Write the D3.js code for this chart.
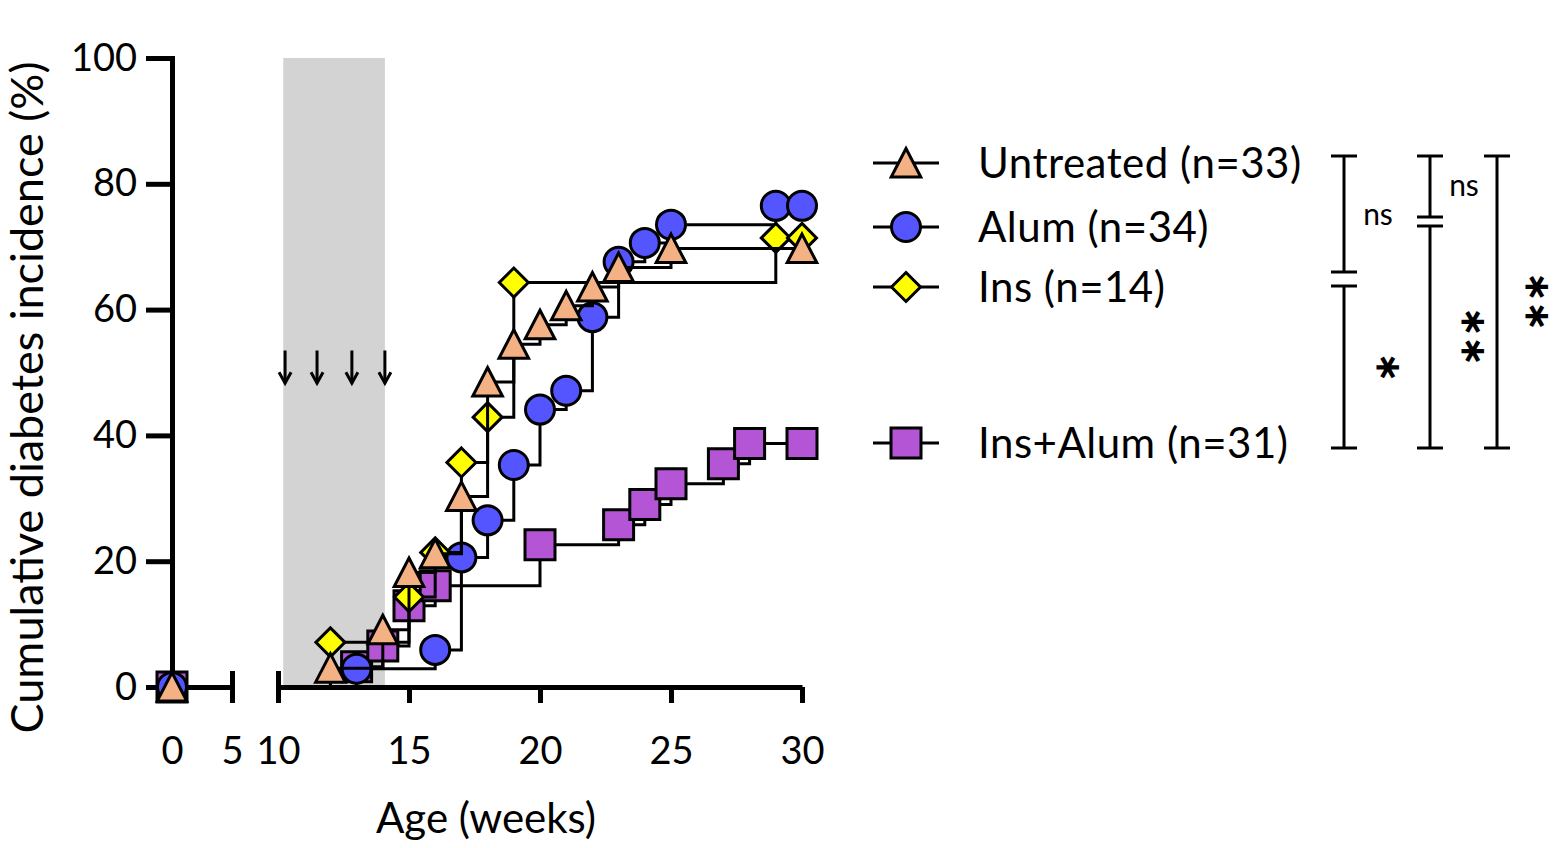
<!DOCTYPE html>
<html><head><meta charset="utf-8">
<script src="https://cdn.jsdelivr.net/npm/d3@7/dist/d3.min.js"></script>
<style>
body{margin:0;background:#fff}
svg{display:block}
text{font-family:Lato,'Open Sans',sans-serif;fill:#000}
</style>
</head><body>
<svg id="chart" width="1557" height="848"></svg>
<script>
// ---------------- data ----------------
const seriesNames = ["Untreated (n=33)", "Alum (n=34)", "Ins (n=14)", "Ins+Alum (n=31)"];
const seriesShapes = ["triangle", "circle", "diamond", "square"];
const seriesColors = ["#F4B183", "#5555FF", "#FFFF00", "#B455D5"];

const untreatedWeeks = [0, 12, 14, 15, 16, 17, 18, 19, 20, 21, 22, 23, 25, 30];
const untreatedPct   = [0, 3.0, 9.1, 18.2, 21.2, 30.3, 48.5, 54.5, 57.6, 60.6, 63.6, 66.7, 69.7, 69.7];

const alumWeeks = [0, 13, 16, 17, 18, 19, 20, 21, 22, 23, 24, 25, 29, 30];
const alumPct   = [0, 2.9, 5.9, 20.6, 26.5, 35.3, 44.1, 47.1, 58.8, 67.6, 70.6, 73.5, 76.5, 76.5];

const insWeeks = [12, 15, 16, 17, 18, 19, 29, 30];
const insPct   = [7.1, 14.3, 21.4, 35.7, 42.9, 64.3, 71.4, 71.4];

const insAlumWeeks = [0, 13, 14, 15, 16, 20, 23, 24, 25, 27, 28, 30];
const insAlumPct   = [0, 3.2, 6.5, 12.9, 16.1, 22.6, 25.8, 29.0, 32.3, 35.5, 38.7, 38.7];

const yTicks = [0, 20, 40, 60, 80, 100];
const xTicksLeft = [0, 5];
const xTicksRight = [10, 15, 20, 25, 30];
const treatmentWindow = [10.2, 14.08];       // shaded weeks
const injectionWeeks = [10.27, 11.49, 12.82, 14.08];
const arrowSpan = [53.5, 48.3];              // % range of arrows

const sigLabels = [["ns", "*"], ["ns", "**"], ["**"]];

// ---------------- layout ----------------
const svg = d3.select("#chart");
const x = d3.scaleLinear().domain([0, 5, 10, 30]).range([172, 232, 278, 802]);
const y = d3.scaleLinear().domain([0, 100]).range([687, 58]);
const AXW = 5;

// shaded treatment window
svg.append("rect")
  .attr("x", x(treatmentWindow[0])).attr("y", y(100))
  .attr("width", x(treatmentWindow[1]) - x(treatmentWindow[0]))
  .attr("height", y(0) - y(100))
  .attr("fill", "#D3D3D3");

// injection arrows
const arrows = svg.append("g").attr("stroke", "#000").attr("fill", "none").attr("stroke-width", 3);
injectionWeeks.forEach(w => {
  const cx = x(w), y1 = y(arrowSpan[0]), y2 = y(arrowSpan[1]);
  arrows.append("line").attr("x1", cx).attr("x2", cx).attr("y1", y1).attr("y2", y2);
  arrows.append("path").attr("d", `M${cx-6},${y2-11}L${cx},${y2}L${cx+6},${y2-11}`);
});

// ---------------- axes ----------------
const yAxis = d3.axisLeft(y).tickValues(yTicks).tickSize(26).tickSizeOuter(0).tickPadding(9);
const gy = svg.append("g").attr("transform", `translate(${x(0)},0)`).call(yAxis);
gy.select(".domain").attr("stroke-width", AXW).attr("stroke-linecap", "square");
gy.selectAll(".tick line").attr("stroke-width", AXW);
gy.selectAll(".tick text").attr("font-size", 38).attr("font-family", "Lato").attr("fill", "#000");

function xSeg(ticks, upTicks) {
  const sc = d3.scaleLinear().domain([ticks[0], ticks[ticks.length - 1]])
    .range([x(ticks[0]), x(ticks[ticks.length - 1])]);
  const ax = d3.axisBottom(sc).tickValues(ticks).tickSize(16).tickSizeOuter(0).tickPadding(34)
    .tickFormat(d3.format("d"));
  const g = svg.append("g").attr("transform", `translate(0,${y(0)})`).call(ax);
  g.select(".domain").attr("stroke-width", AXW);
  g.selectAll(".tick line").attr("stroke-width", AXW)
    .attr("y1", d => upTicks.includes(d) ? -16 : 0);
  g.selectAll(".tick text").attr("font-size", 38).attr("font-family", "Lato").attr("fill", "#000");
  return g;
}
xSeg(xTicksLeft, [5]);
xSeg(xTicksRight, [10]);

// axis titles
svg.append("text").attr("transform", `translate(43,${(y(0)+y(100))/2 + 25}) rotate(-90)`)
  .attr("text-anchor", "middle").attr("font-size", 45)
  .text("Cumulative diabetes incidence (%)");
svg.append("text").attr("x", 486).attr("y", 833)
  .attr("text-anchor", "middle").attr("font-size", 42)
  .text("Age (weeks)");

// ---------------- markers ----------------
function shapePath(shape) {
  switch (shape) {
    case "triangle": return "M0,-14.5L14.8,14L-14.8,14Z";
    case "diamond": return "M0,-14.5L14.5,0L0,14.5L-14.5,0Z";
    case "square": return "M-15,-15H15V15H-15Z";
    default: return d3.arc()({innerRadius: 0, outerRadius: 14.5, startAngle: 0, endAngle: 2 * Math.PI});
  }
}

const seriesData = [
  {weeks: untreatedWeeks, pct: untreatedPct},
  {weeks: alumWeeks, pct: alumPct},
  {weeks: insWeeks, pct: insPct},
  {weeks: insAlumWeeks, pct: insAlumPct}
];

const line = d3.line().x(d => x(d[0])).y(d => y(d[1])).curve(d3.curveStepAfter);
const drawOrder = [3, 1, 2, 0];
drawOrder.forEach(i => {
  const s = seriesData[i];
  const pts = s.weeks.map((w, k) => [w, s.pct[k]]);
  const seg = [[xTicksRight[0], 0]].concat(pts.filter(p => p[0] >= xTicksRight[0]));
  const g = svg.append("g");
  g.append("path").attr("d", line(seg)).attr("fill", "none")
    .attr("stroke", "#000").attr("stroke-width", 3);
  g.selectAll("path.m").data(pts).join("path").attr("class", "m")
    .attr("transform", d => `translate(${x(d[0])},${y(d[1])})`)
    .attr("d", shapePath(seriesShapes[i]))
    .attr("fill", seriesColors[i]).attr("stroke", "#000").attr("stroke-width", 3);
});

// ---------------- legend ----------------
const legendRows = [163, 227, 287, 443];
const leg = svg.append("g");
seriesNames.forEach((name, i) => {
  const cy = legendRows[i];
  leg.append("line").attr("x1", 873).attr("x2", 939).attr("y1", cy).attr("y2", cy)
    .attr("stroke", "#000").attr("stroke-width", 3);
  leg.append("path").attr("transform", `translate(906,${cy})`).attr("d", shapePath(seriesShapes[i]))
    .attr("fill", seriesColors[i]).attr("stroke", "#000").attr("stroke-width", 3);
  leg.append("text").attr("x", 978).attr("y", cy + 15).attr("font-size", 42)
    .attr("letter-spacing", 0.5).text(name);
});

// ---------------- significance brackets ----------------
const sig = svg.append("g").attr("stroke", "#000").attr("stroke-width", 3);
function cap(cx, cy) { sig.append("line").attr("x1", cx - 13).attr("x2", cx + 13).attr("y1", cy).attr("y2", cy); }
function vline(cx, a, b) { sig.append("line").attr("x1", cx).attr("x2", cx).attr("y1", a).attr("y2", b); }
const bTop = 156, bBot = 448;
const brackets = [
  {x: 1344, brk: [272, 286]},
  {x: 1430, brk: [217, 226]},
  {x: 1497, brk: null}
];
brackets.forEach(b => {
  cap(b.x, bTop); cap(b.x, bBot);
  if (b.brk) {
    vline(b.x, bTop, b.brk[0]); cap(b.x, b.brk[0]); cap(b.x, b.brk[1]); vline(b.x, b.brk[1], bBot);
  } else vline(b.x, bTop, bBot);
});
const sigText = [
  {t: sigLabels[0][0], x: 1378, y: 217, ns: true},
  {t: sigLabels[0][1], x: 1387, y: 368},
  {t: sigLabels[1][0], x: 1464, y: 188, ns: true},
  {t: sigLabels[1][1], x: 1472, y: 337},
  {t: sigLabels[2][0], x: 1536, y: 302}
];
const STAR = 36;
sigText.forEach(s => {
  if (s.ns) {
    svg.append("text").attr("x", s.x).attr("y", s.y + 8).attr("text-anchor", "middle")
      .attr("font-size", 30).text(s.t);
  } else {
    // stars stacked vertically: one text element rotated -90°
    const txt = s.t.split("").map(() => "\u2217").join("");
    svg.append("text")
      .attr("transform", `translate(${s.x + 0.32 * STAR},${s.y}) rotate(-90)`)
      .attr("text-anchor", "middle")
      .attr("font-size", STAR).attr("letter-spacing", -1)
      .style("font-family", "DejaVu Sans").attr("font-weight", "bold")
      .text(txt);
  }
});
</script>
</body></html>
